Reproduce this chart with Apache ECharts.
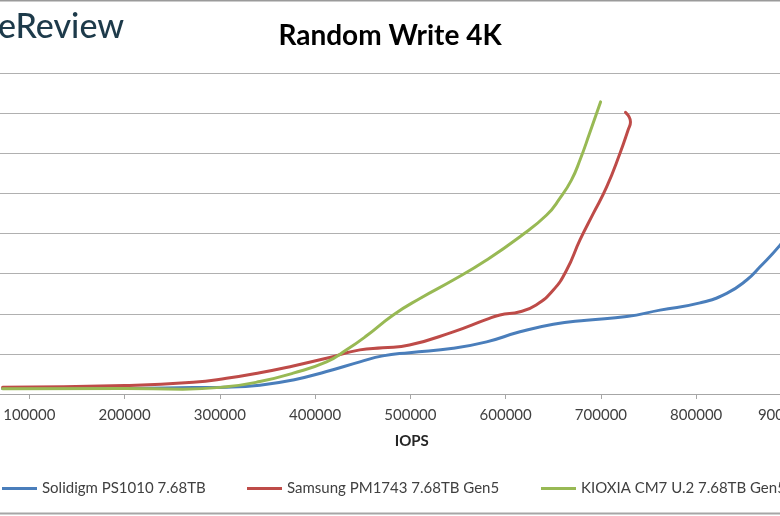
<!DOCTYPE html>
<html>
<head>
<meta charset="utf-8">
<script src="https://cdn.jsdelivr.net/npm/echarts@6/dist/echarts.min.js"></script>
<style>
html,body{margin:0;padding:0;background:#fff;}
#c{width:780px;height:516px;}
</style>
</head>
<body>
<div id="c"></div>
<script>
// Data (y in gridline units; y-axis labels are cropped off)
const seriesNames = ['Solidigm PS1010 7.68TB', 'Samsung PM1743 7.68TB Gen5', 'KIOXIA CM7 U.2 7.68TB Gen5'];
const xTickValues = [0, 100000, 200000, 300000, 400000, 500000, 600000, 700000, 800000, 900000];

const solidigmIops = [72000, 200000, 272000, 307000, 342000, 377000, 412000, 447000, 471000, 499000, 545000, 580000, 615000, 650000, 685000, 727000, 762000, 804000, 832000, 853000, 867000, 888000, 900000];
const solidigmLat  = [0.14, 0.14, 0.16, 0.17, 0.22, 0.35, 0.56, 0.80, 0.95, 1.03, 1.14, 1.30, 1.55, 1.74, 1.84, 1.93, 2.09, 2.27, 2.51, 2.84, 3.17, 3.71, 4.10];

const samsungIops = [72000, 200000, 272000, 307000, 342000, 377000, 412000, 447000, 471000, 499000, 545000, 580000, 594000, 615000, 632000, 650000, 664000, 678000, 692000, 706000, 720000, 728500, 731000, 725800];
const samsungLat  = [0.17, 0.21, 0.29, 0.39, 0.53, 0.70, 0.89, 1.10, 1.15, 1.22, 1.55, 1.86, 1.97, 2.05, 2.22, 2.59, 3.09, 3.84, 4.50, 5.16, 6.00, 6.58, 6.78, 7.02];

const kioxiaIops = [72000, 200000, 261000, 307000, 342000, 377000, 412000, 433000, 454000, 482000, 510000, 545000, 580000, 615000, 643000, 657000, 669000, 678000, 688000, 699600];
const kioxiaLat  = [0.13, 0.14, 0.12, 0.18, 0.31, 0.52, 0.80, 1.10, 1.45, 1.97, 2.38, 2.84, 3.34, 3.92, 4.46, 4.88, 5.33, 5.83, 6.49, 7.28];

const colors = ['#4A7EBB', '#BE4B48', '#98B954'];

function pairs(xs, ys) { return xs.map((x, i) => [x, ys[i]]); }

const chart = echarts.init(document.getElementById('c'), null, {renderer: 'canvas'});
const FONT = 'Lato, "Open Sans", sans-serif';

function mkSeries(name, xs, ys, color) {
  return {
    name: name, type: 'line', data: pairs(xs, ys), smooth: 0.5,
    showSymbol: false, symbol: 'none',
    lineStyle: {width: 3, color: color, cap: 'round', join: 'round'},
    itemStyle: {color: color}, z: 3, animation: false
  };
}

function mkLegend(name, left) {
  return {
    data: [{name: name, icon: 'rect'}], left: left, top: 481,
    itemWidth: 35, itemHeight: 3, itemGap: 0, padding: 0,
    textStyle: {fontFamily: FONT, fontSize: 15, color: '#404040'}
  };
}

chart.setOption({
  animation: false,
  backgroundColor: '#ffffff',
  color: colors,
  title: {
    text: 'Random Write 4K', left: 'center', top: 17,
    textStyle: {fontFamily: FONT, fontSize: 28, fontWeight: 'bold', color: '#000'}
  },
  grid: {left: -66, top: 73, width: 857.5, height: 321, containLabel: false, outerBoundsMode: 'none'},
  legend: [mkLegend(seriesNames[0], 2), mkLegend(seriesNames[1], 247), mkLegend(seriesNames[2], 541)],
  xAxis: {
    type: 'value', min: xTickValues[0], max: xTickValues[xTickValues.length - 1], interval: 100000,
    name: 'IOPS', nameLocation: 'middle', nameGap: 40,
    nameTextStyle: {fontFamily: FONT, fontSize: 15, fontWeight: 'bold', color: '#262626', padding: [0, 0, 0, 98]},
    axisLine: {show: true, lineStyle: {color: '#a6a6a6', width: 1}},
    axisTick: {show: true, length: 5, lineStyle: {color: '#a6a6a6'}},
    axisLabel: {
      margin: 14, fontFamily: FONT, fontSize: 15, color: '#404040', hideOverlap: false,
      formatter: function (v) { return v === 900000 ? '{s|' + v + '}' : String(v); },
      rich: {s: {fontFamily: FONT, fontSize: 15, color: '#404040', padding: [0, 15, 0, 0]}}
    },
    splitLine: {show: false}
  },
  yAxis: {
    type: 'value', min: 0, max: 8, interval: 1,
    axisLine: {show: false}, axisTick: {show: false}, axisLabel: {show: false},
    splitLine: {show: true, lineStyle: {color: '#b0b0b0', width: 1}}
  },
  graphic: [
    {type: 'line', shape: {x1: 0, y1: 0.5, x2: 780, y2: 0.5}, style: {stroke: '#9a9a9a', lineWidth: 2}},
    {type: 'line', shape: {x1: 0, y1: 513.5, x2: 780, y2: 513.5}, style: {stroke: '#a6a6a6', lineWidth: 2}},
    {type: 'text', left: -2, top: 10, style: {text: 'eReview', font: '500 34px Lato, "Open Sans", sans-serif', fill: '#1d3a4a'}}
  ],
  series: [
    mkSeries(seriesNames[0], solidigmIops, solidigmLat, colors[0]),
    mkSeries(seriesNames[1], samsungIops, samsungLat, colors[1]),
    mkSeries(seriesNames[2], kioxiaIops, kioxiaLat, colors[2])
  ]
});
</script>
</body>
</html>
